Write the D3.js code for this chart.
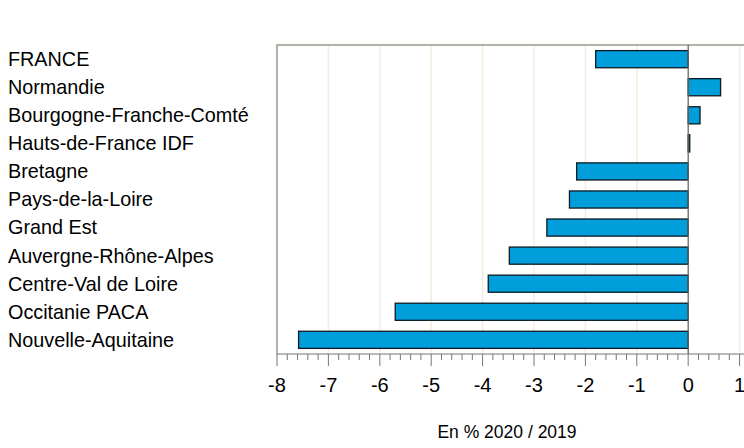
<!DOCTYPE html>
<html>
<head>
<meta charset="utf-8">
<script src="https://cdn.jsdelivr.net/npm/d3@7"></script>
<style>
  body { margin: 0; background: #fff; }
  text { font-family: "Liberation Sans", Arial, sans-serif; fill: #000; }
</style>
</head>
<body>
<svg id="chart" width="744" height="448"></svg>
<script>
const regions = ["FRANCE", "Normandie", "Bourgogne-Franche-Comté", "Hauts-de-France IDF", "Bretagne",
  "Pays-de-la-Loire", "Grand Est", "Auvergne-Rhône-Alpes", "Centre-Val de Loire", "Occitanie PACA", "Nouvelle-Aquitaine"]
const values = [-1.8, 0.63, 0.23, 0.03, -2.17, -2.31, -2.75, -3.48, -3.89, -5.7, -7.58]
const tickValues = [-8, -7, -6, -5, -4, -3, -2, -1, 0, 1]
const axisTitle = "En % 2020 / 2019"

const svg = d3.select("#chart")
const margin = {top: 45, left: 277, bottom: 94}
const width = 744, height = 448

const x = d3.scaleLinear().domain([-8, 1]).range([277, 739.6])
const y = d3.scaleBand().domain(regions).range([margin.top, height - margin.bottom]).paddingInner(0.39).paddingOuter(0.2)

// vertical gridlines
svg.append("g").selectAll("line").data(tickValues.filter(d => d !== -8 && d !== 0)).enter().append("line")
  .attr("x1", d => x(d)).attr("x2", d => x(d))
  .attr("y1", margin.top).attr("y2", height - margin.bottom)
  .attr("stroke", "#f0eedc").attr("stroke-width", 1.5)

// frame: left and top
svg.append("path")
  .attr("d", `M${x(-8)},${height - margin.bottom}V${margin.top}H${width}`)
  .attr("fill", "none").attr("stroke", "#9a968a").attr("stroke-width", 1.5)

// bars
svg.append("g").selectAll("rect").data(values).enter().append("rect")
  .attr("x", d => x(Math.min(0, d)))
  .attr("width", d => Math.abs(x(d) - x(0)))
  .attr("y", (d, i) => y(regions[i]))
  .attr("height", y.bandwidth())
  .attr("fill", "#009edb").attr("stroke", "#0d1a22").attr("stroke-width", 1.3)

// zero line
svg.append("line")
  .attr("x1", x(0)).attr("x2", x(0))
  .attr("y1", margin.top).attr("y2", height - margin.bottom)
  .attr("stroke", "#6b675c").attr("stroke-width", 1.3)

// x axis with minor ticks
const axisY = height - margin.bottom
const minor = d3.range(-8, 1.41, 0.2).map(d => +d.toFixed(1))
svg.append("line").attr("x1", x(-8)).attr("x2", width).attr("y1", axisY).attr("y2", axisY)
  .attr("stroke", "#777").attr("stroke-width", 1.2)
svg.append("g").selectAll("line").data(minor).enter().append("line")
  .attr("x1", d => x(d)).attr("x2", d => x(d))
  .attr("y1", axisY).attr("y2", d => Number.isInteger(d) ? axisY + 12 : axisY + 6)
  .attr("stroke", "#777").attr("stroke-width", 1)
svg.append("g").selectAll("text").data(tickValues).enter().append("text")
  .attr("x", d => x(d)).attr("y", 392)
  .attr("text-anchor", "middle").attr("font-size", 20)
  .text(d => d)

// category labels
svg.append("g").selectAll("text").data(regions).enter().append("text")
  .attr("x", 8).attr("y", d => y(d) + y.bandwidth() / 2)
  .attr("dy", "0.35em").attr("font-size", 19.8)
  .text(d => d)

svg.append("text").attr("x", 507).attr("y", 438).attr("text-anchor", "middle")
  .attr("font-size", 17.5).text(axisTitle)
</script>
</body>
</html>
